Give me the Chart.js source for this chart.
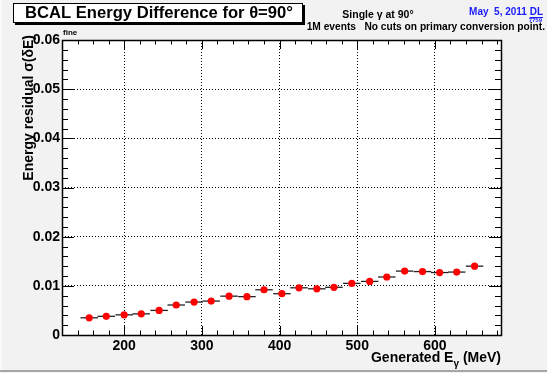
<!DOCTYPE html>
<html>
<head>
<meta charset="utf-8">
<script src="https://cdn.jsdelivr.net/npm/chart.js@4/dist/chart.umd.min.js"></script>
<style>
  html, body { margin: 0; padding: 0; background: #f2f2f2; }
  canvas { display: block; }
</style>
</head>
<body>
<canvas id="chart" width="547" height="373"></canvas>
<script>
// Photon energy bins (MeV) and fitted resolution of the energy residual
const energy = [155, 177, 200, 222, 245, 267, 290, 312, 335, 358, 380, 403,
                425, 448, 470, 493, 516, 538, 561, 584, 606, 628, 651];
const sigma = [0.0035, 0.0038, 0.0041, 0.0043, 0.0050, 0.0061, 0.0067, 0.0069,
               0.0079, 0.0078, 0.0092, 0.0084, 0.0096, 0.0094, 0.0097, 0.0105,
               0.0109, 0.0118, 0.0130, 0.0129, 0.0127, 0.0128, 0.0140];
const binHalfWidth = 11.25;

const xTicks = [200, 300, 400, 500, 600];
const yTicks = [0, 0.01, 0.02, 0.03, 0.04, 0.05, 0.06];

const FONT = '"Liberation Sans", Arial, Helvetica, sans-serif';

// horizontal bars for the bin width, drawn under the markers
const binBars = {
    id: 'binBars',
    beforeDatasetsDraw(chart) {
        const { ctx, scales: { x, y } } = chart;
        ctx.save();
        ctx.strokeStyle = '#222';
        ctx.lineWidth = 1.3;
        energy.forEach((e, i) => {
            const py = y.getPixelForValue(sigma[i]);
            ctx.beginPath();
            ctx.moveTo(x.getPixelForValue(e - binHalfWidth), py);
            ctx.lineTo(x.getPixelForValue(e + binHalfWidth), py);
            ctx.stroke();
        });
        ctx.restore();
    }
};

// ROOT style canvas: grey pad, white frame, ticks on all four sides, labels
const rootPad = {
    id: 'rootPad',
    beforeDraw(chart) {
        const { ctx, chartArea: a } = chart;
        ctx.save();
        ctx.fillStyle = '#f2f2f2';
        ctx.fillRect(0, 0, chart.width, chart.height);
        ctx.fillStyle = '#fafafa';
        ctx.fillRect(0, 0, 2, chart.height);
        ctx.fillStyle = '#a6a6a6';
        ctx.fillRect(0, chart.height - 3, chart.width, 2);
        ctx.fillStyle = '#fff';
        ctx.fillRect(a.left, a.top, a.right - a.left, a.bottom - a.top);
        ctx.restore();
    },
    afterDraw(chart) {
        const { ctx, chartArea: a, scales: { x, y } } = chart;
        ctx.save();
        ctx.strokeStyle = '#000';
        ctx.lineWidth = 1;

        // tick marks
        ctx.beginPath();
        for (let v = 140; v < x.max; v += 20) {
            const px = Math.round(x.getPixelForValue(v)) + 0.5;
            const len = v % 100 === 0 ? 9 : 4.5;
            ctx.moveTo(px, a.bottom); ctx.lineTo(px, a.bottom - len);
            ctx.moveTo(px, a.top); ctx.lineTo(px, a.top + len);
        }
        for (let k = 1; k < 30; k++) {
            const py = Math.round(y.getPixelForValue(k * 0.002)) + 0.5;
            const len = k % 5 === 0 ? 12 : 6;
            ctx.moveTo(a.left, py); ctx.lineTo(a.left + len, py);
            ctx.moveTo(a.right, py); ctx.lineTo(a.right - len, py);
        }
        ctx.stroke();

        // frame
        ctx.lineWidth = 1.5;
        ctx.strokeRect(a.left + 0.5, a.top + 0.5, a.right - a.left, a.bottom - a.top);

        // axis titles
        ctx.fillStyle = '#000';
        ctx.font = 'bold 14px ' + FONT;
        ctx.textBaseline = 'alphabetic';
        const t1 = 'Generated E', t2 = 'γ', t3 = ' (MeV)';
        const w1 = ctx.measureText(t1).width, w3 = ctx.measureText(t3).width;
        ctx.font = 'bold 10px ' + FONT;
        const w2 = ctx.measureText(t2).width;
        let sx = a.right - (w1 + w2 + w3);
        ctx.font = 'bold 14px ' + FONT;
        ctx.fillText(t1, sx, 362);
        ctx.font = 'bold 10px ' + FONT;
        ctx.fillText(t2, sx + w1, 367);
        ctx.font = 'bold 14px ' + FONT;
        ctx.fillText(t3, sx + w1 + w2, 362);

        ctx.save();
        ctx.translate(33, 35);
        ctx.rotate(-Math.PI / 2);
        ctx.textAlign = 'right';
        ctx.fillText('Energy residual σ(δE)', 0, 0);
        ctx.restore();

        ctx.font = 'bold 8px ' + FONT;
        ctx.fillText('fine', 63, 35);

        // title box with shadow
        ctx.fillStyle = '#000';
        ctx.fillRect(15, 5, 290, 20);
        ctx.fillStyle = '#fff';
        ctx.fillRect(13, 3, 290, 20);
        ctx.lineWidth = 1;
        ctx.strokeRect(13.5, 3.5, 289, 19);
        ctx.fillStyle = '#000';
        ctx.font = 'bold 16.6px ' + FONT;
        ctx.textAlign = 'center';
        ctx.textBaseline = 'middle';
        ctx.fillText('BCAL Energy Difference for θ=90°', 159, 13.5);

        // run information
        ctx.font = 'bold 10.5px ' + FONT;
        ctx.fillText('Single γ at 90°', 378, 15);
        ctx.font = 'bold 10.2px ' + FONT;
        ctx.textAlign = 'right';
        ctx.fillText('1M events   No cuts on primary conversion point.', 545, 27);

        ctx.fillStyle = '#1a1aff';
        ctx.strokeStyle = '#1a1aff';
        ctx.font = 'bold 10px ' + FONT;
        ctx.fillText('May  5, 2011 DL', 543, 12);
        const dlw = ctx.measureText('DL').width;
        ctx.beginPath();
        ctx.moveTo(543 - dlw, 17.5); ctx.lineTo(543, 17.5);
        ctx.stroke();
        ctx.font = 'bold 6px ' + FONT;
        ctx.fillText('7759', 542, 20.5);
        ctx.restore();
    }
};

new Chart(document.getElementById('chart'), {
    type: 'scatter',
    data: {
        datasets: [{
            data: energy.map((e, i) => ({ x: e, y: sigma[i] })),
            backgroundColor: '#ff0000',
            borderWidth: 0,
            pointRadius: 3.6
        }]
    },
    options: {
        responsive: false,
        animation: false,
        devicePixelRatio: 1,
        layout: { padding: { left: 0, right: 46, top: 40, bottom: 0 } },
        plugins: { legend: { display: false }, tooltip: { enabled: false } },
        scales: {
            x: {
                type: 'linear',
                min: 120,
                max: 685,
                afterFit(scale) { scale.height = 38; },
                afterBuildTicks(scale) { scale.ticks = xTicks.map(v => ({ value: v })); },
                grid: { color: '#000', lineWidth: 1, drawTicks: false },
                border: { display: false, dash: [1, 2] },
                ticks: {
                    padding: 3,
                    color: '#000',
                    font: { family: FONT, size: 14, weight: 'bold' }
                }
            },
            y: {
                type: 'linear',
                min: 0,
                max: 0.06,
                afterFit(scale) { scale.width = 62; },
                afterBuildTicks(scale) { scale.ticks = yTicks.map(v => ({ value: v })); },
                grid: { color: '#000', lineWidth: 1, drawTicks: false },
                border: { display: false, dash: [1, 2] },
                ticks: {
                    padding: 2,
                    color: '#000',
                    font: { family: FONT, size: 14, weight: 'bold' },
                    callback: v => v === 0 ? '0' : v.toFixed(2)
                }
            }
        }
    },
    plugins: [binBars, rootPad]
});
</script>
</body>
</html>
